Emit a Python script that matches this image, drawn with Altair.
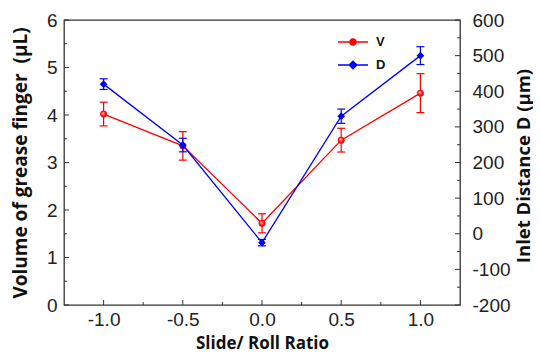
import altair as alt
import pandas as pd

# ---- data ----
ratio = [-1.0, -0.5, 0.0, 0.5, 1.0]
v_mean = [4.02, 3.35, 1.72, 3.47, 4.46]
v_err = [0.25, 0.30, 0.20, 0.25, 0.41]
d_mean = [420, 249, -25, 330, 500]
d_err = [15, 19, 9, 20, 25]

series_names = ["V", "D"]
series_colors = ["#ff0000", "#0000ff"]

x_major = [-1.0, -0.5, 0.0, 0.5, 1.0]
x_minor = [-0.75, -0.25, 0.25, 0.75]
v_major = [0, 1, 2, 3, 4, 5, 6]
v_minor = [0.5, 1.5, 2.5, 3.5, 4.5, 5.5]
d_major = [-200, -100, 0, 100, 200, 300, 400, 500, 600]
d_minor = [-150, -50, 50, 150, 250, 350, 450, 550]

W, H = 396, 285
FRAME = "#333333"
LABEL_FONT = "Liberation Sans"
TITLE_FONT = "Open Sans"

v_df = pd.DataFrame({"ratio": ratio, "v": v_mean,
                     "lo": [m - e for m, e in zip(v_mean, v_err)],
                     "hi": [m + e for m, e in zip(v_mean, v_err)]})
d_df = pd.DataFrame({"ratio": ratio, "d": d_mean,
                     "lo": [m - e for m, e in zip(d_mean, d_err)],
                     "hi": [m + e for m, e in zip(d_mean, d_err)]})

xscale = alt.Scale(domain=[-1.25, 1.25], nice=False, zero=False)
vscale = alt.Scale(domain=[0, 6], nice=False, zero=False)
dscale = alt.Scale(domain=[-200, 600], nice=False, zero=False)

neg_expr = "datum.value < 0 ? '-' + format(-datum.value, '{f}') : format(datum.value, '{f}')"

x_axis = alt.Axis(values=x_major, labelExpr=neg_expr.format(f=".1f"),
                  title="Slide/ Roll Ratio", labelPadding=5, titleFontSize=17,
                  titleY=43, titleBaseline="alphabetic", labelOverlap=False)
v_axis = alt.Axis(values=v_major, title="Volume of grease finger\u00a0 (μL)",
                  labelPadding=7, titleFontSize=19, titleX=-44, titleY=H / 2,
                  titleAngle=270, titleBaseline="middle", titleAlign="center",
                  labelOverlap=False)
d_axis = alt.Axis(values=d_major, orient="right", labelExpr=neg_expr.format(f="d"),
                  title="Inlet Distance D (μm)", labelPadding=12, titleFontSize=18.5,
                  titleX=63, titleY=H / 2 + 3, titleAngle=270,
                  titleBaseline="middle", titleAlign="center", labelOverlap=False)

X = alt.X("ratio:Q", scale=xscale, axis=x_axis)
YV = alt.Y("v:Q", scale=vscale, axis=v_axis)
YD = alt.Y("d:Q", scale=dscale, axis=d_axis)

# ---- V series (left axis) ----
vbase = alt.Chart(v_df)
v_line = vbase.mark_line(color=series_colors[0], strokeWidth=1.3).encode(x=X, y=YV)
v_rule = vbase.mark_rule(color=series_colors[0], strokeWidth=1.2).encode(
    x=X, y=alt.Y("lo:Q", scale=vscale, axis=v_axis), y2="hi:Q")
v_cap_lo = vbase.mark_tick(color=series_colors[0], orient="horizontal", size=8,
                           thickness=1.2, opacity=1).encode(
    x=X, y=alt.Y("lo:Q", scale=vscale, axis=v_axis))
v_cap_hi = vbase.mark_tick(color=series_colors[0], orient="horizontal", size=8,
                           thickness=1.2, opacity=1).encode(
    x=X, y=alt.Y("hi:Q", scale=vscale, axis=v_axis))
red_ball = alt.RadialGradient(
    gradient="radial",
    stops=[alt.GradientStop(offset=0, color="#ffc8c8"),
           alt.GradientStop(offset=0.6, color="#ff1010"),
           alt.GradientStop(offset=1, color="#e00000")],
    x1=0.38, y1=0.35, r1=0, x2=0.5, y2=0.5, r2=0.6)
v_pts = vbase.mark_point(shape="circle", filled=True, size=42, opacity=1,
                         fill=red_ball, stroke="#ff0000", strokeWidth=0.6).encode(x=X, y=YV)

left_tick_major = alt.Chart(pd.DataFrame({"v": v_major})).mark_rule(
    color=FRAME, strokeWidth=1).encode(y=YV, x=alt.value(0), x2=alt.value(5))
left_tick_minor = alt.Chart(pd.DataFrame({"v": v_minor})).mark_rule(
    color=FRAME, strokeWidth=1).encode(y=YV, x=alt.value(0), x2=alt.value(3))
bot_tick_major = alt.Chart(pd.DataFrame({"ratio": x_major})).mark_rule(
    color=FRAME, strokeWidth=1).encode(x=X, y=alt.value(H), y2=alt.value(H - 5))
bot_tick_minor = alt.Chart(pd.DataFrame({"ratio": x_minor})).mark_rule(
    color=FRAME, strokeWidth=1).encode(x=X, y=alt.value(H), y2=alt.value(H - 3))

left = alt.layer(v_line, v_rule, v_cap_lo, v_cap_hi, v_pts,
                 left_tick_major, left_tick_minor, bot_tick_major, bot_tick_minor)

# ---- D series (right axis) ----
dbase = alt.Chart(d_df)
d_line = dbase.mark_line(color=series_colors[1], strokeWidth=1.3).encode(x=X, y=YD)
d_rule = dbase.mark_rule(color=series_colors[1], strokeWidth=1.2).encode(
    x=X, y=alt.Y("lo:Q", scale=dscale, axis=d_axis), y2="hi:Q")
d_cap_lo = dbase.mark_tick(color=series_colors[1], orient="horizontal", size=8,
                           thickness=1.2, opacity=1).encode(
    x=X, y=alt.Y("lo:Q", scale=dscale, axis=d_axis))
d_cap_hi = dbase.mark_tick(color=series_colors[1], orient="horizontal", size=8,
                           thickness=1.2, opacity=1).encode(
    x=X, y=alt.Y("hi:Q", scale=dscale, axis=d_axis))
d_pts = dbase.mark_point(shape="diamond", filled=True, size=60, opacity=1,
                         color=series_colors[1]).encode(x=X, y=YD)

right_tick_major = alt.Chart(pd.DataFrame({"d": d_major})).mark_rule(
    color=FRAME, strokeWidth=1).encode(y=YD, x=alt.value(W), x2=alt.value(W - 5))
right_tick_minor = alt.Chart(pd.DataFrame({"d": d_minor})).mark_rule(
    color=FRAME, strokeWidth=1).encode(y=YD, x=alt.value(W), x2=alt.value(W - 3))

right = alt.layer(d_line, d_rule, d_cap_lo, d_cap_hi, d_pts,
                  right_tick_major, right_tick_minor)

# ---- legend (line + marker symbols) ----
legend_paths = [
    "M-1,0H-0.21M0.21,0H1M-0.21,0A0.21,0.21,0,1,1,0.21,0A0.21,0.21,0,1,1,-0.21,0Z",
    "M-1,0H1M0,-0.26L0.26,0L0,0.26L-0.26,0Z",
]
leg = alt.Legend(title=None, orient="none", legendX=273, legendY=6,
                 labelFont=LABEL_FONT, labelFontWeight="bold", labelFontSize=13,
                 labelColor="#111111", symbolSize=900, symbolStrokeWidth=1.3,
                 labelOffset=7, padding=0, rowPadding=-7)
legend_layer = alt.Chart(pd.DataFrame({"series": series_names})).transform_filter(
    "false").mark_point(filled=True, opacity=1, strokeWidth=1.3).encode(
    fill=alt.Fill("series:N", scale=alt.Scale(domain=series_names, range=series_colors), legend=leg),
    stroke=alt.Stroke("series:N", scale=alt.Scale(domain=series_names, range=series_colors), legend=leg),
    shape=alt.Shape("series:N", scale=alt.Scale(domain=series_names, range=legend_paths), legend=leg),
)

chart = alt.layer(left, right, legend_layer).resolve_scale(
    y="independent"
).properties(
    width=W, height=H,
    padding={"left": 56, "top": 12, "right": 73, "bottom": 47},
    autosize=alt.AutoSizeParams(type="none"),
    background="white",
).configure_view(
    stroke=FRAME, strokeWidth=1.3
).configure_axis(
    grid=False, ticks=False, domain=False,
    labelFont=LABEL_FONT, labelFontSize=19, labelColor="#222222",
    titleFont=TITLE_FONT, titleFontWeight="bold", titleColor="#111111",
)

chart.save("out.html", embed_options={"renderer": "svg", "actions": False})
